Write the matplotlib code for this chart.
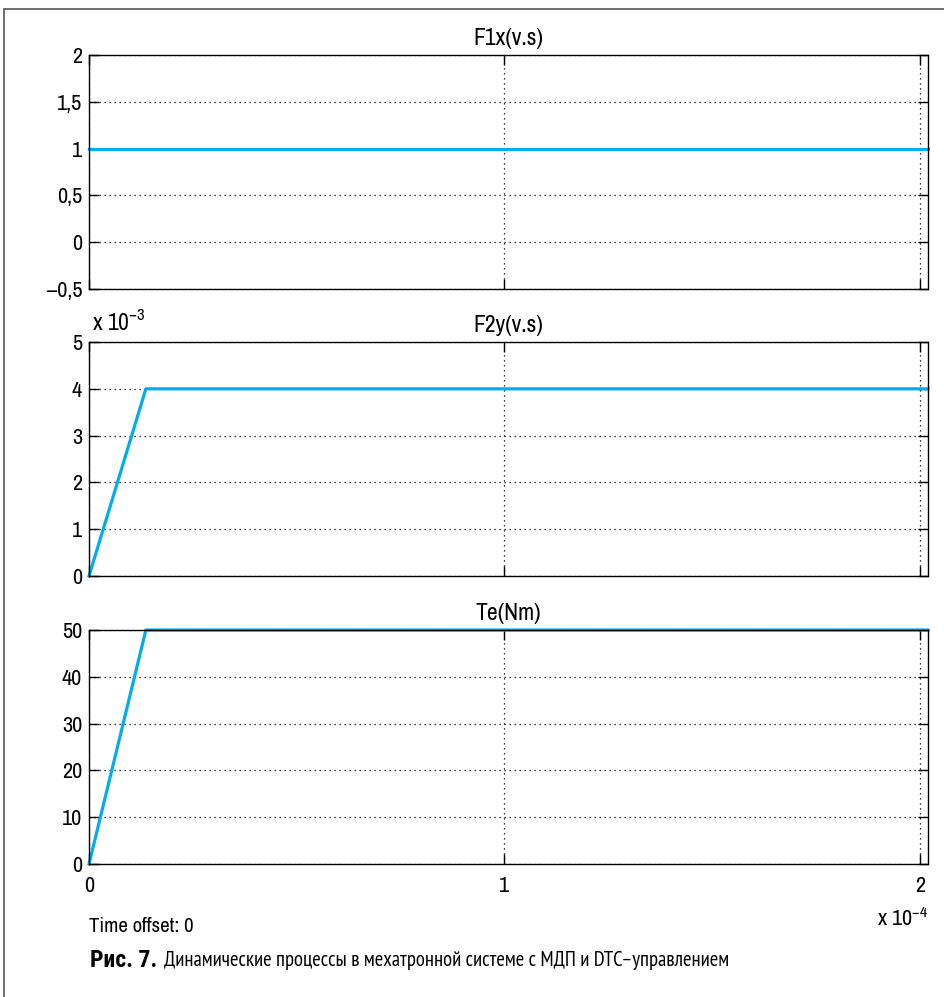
import matplotlib.pyplot as plt
from matplotlib.patches import Rectangle
from matplotlib.ticker import FuncFormatter

plt.rcParams['font.family'] = ['Archivo Narrow', 'PT Sans Narrow', 'DejaVu Sans']
plt.rcParams['mathtext.fontset'] = 'custom'
plt.rcParams['mathtext.rm'] = 'Archivo Narrow'

# time axis (seconds)
t = [0.0, 0.137e-4, 2.02e-4]

titles = ['F1x(v.s)', 'F2y(v.s)', 'Te(Nm)']
f1x = [1.0, 1.0, 1.0]
f2y = [0.0, 4e-3, 4e-3]
te = [0.0, 50.0, 50.0]
series = [f1x, f2y, te]

ylims = [(-0.5, 2.0), (0.0, 5e-3), (0.0, 50.0)]
yticks = [[-0.5, 0, 0.5, 1, 1.5, 2],
          [0, 1e-3, 2e-3, 3e-3, 4e-3, 5e-3],
          [0, 10, 20, 30, 40, 50]]
yscale = [1.0, 1e3, 1.0]
xticks = [0, 1e-4, 2e-4]

line_color = '#00AEEF'
cap_font = ['PT Sans Narrow', 'Roboto Condensed', 'DejaVu Sans']
bold_font = ['Roboto Condensed', 'DejaVu Sans']


def num_fmt(scale):
    def f(v, pos):
        s = ('%g' % (v * scale)).replace('.', ',')
        return s.replace('-', '\u2013')
    return f


fig = plt.figure(figsize=(9.44, 9.97), dpi=100)
W, H = 944, 997

# outer frame of the figure
fig.patches.append(Rectangle((4 / W, -0.1), 1.2, 1 - 9 / H + 0.1,
                             transform=fig.transFigure, fill=False,
                             edgecolor='#555555', linewidth=1.2))

left, right = 89 / W, 928 / W
tops = [55, 342, 630]
h_px = 234

for i in range(3):
    bottom = 1 - (tops[i] + h_px) / H
    ax = fig.add_axes([left, bottom, right - left, h_px / H])
    ax.plot(t, series[i], color=line_color, linewidth=2.3, clip_on=False)
    ax.set_xlim(0, 2.02e-4)
    ax.set_ylim(*ylims[i])
    ax.set_xticks(xticks)
    ax.set_yticks(yticks[i])
    ax.yaxis.set_major_formatter(FuncFormatter(num_fmt(yscale[i])))
    ax.xaxis.set_major_formatter(FuncFormatter(num_fmt(1e4)))
    if i < 2:
        ax.tick_params(axis='x', labelbottom=False)
    ax.tick_params(direction='in', length=7, width=1, top=True, right=True,
                   labelsize=16, pad=5)
    ax.tick_params(axis='x', pad=9)
    ax.grid(True, color='black', linestyle=(0, (1, 3)), linewidth=0.9)
    for sp in ax.spines.values():
        sp.set_linewidth(1.0)
    ax.set_title(titles[i], fontsize=17, pad=7)
    if i == 1:
        ax.text(0.003, 1.03, 'x 10$^{\u22123}$', transform=ax.transAxes,
                fontsize=17, ha='left', va='bottom')
    if i == 2:
        ax.text(1.0, -0.235, 'x 10$^{\u22124}$', transform=ax.transAxes,
                fontsize=16, ha='right', va='center')
        ax.text(0.0, -0.265, 'Time offset: 0', transform=ax.transAxes,
                fontsize=15, ha='left', va='center')

# caption: bold label, then the rest fitted to about 567 px width
cap_y = 1 - 960 / H
cap_text = 'Динамические процессы в мехатронной системе с МДП и DTC\u2013управлением'
bold = fig.text(90 / W, cap_y, 'Рис. 7.', fontsize=17, fontweight='bold',
                family=bold_font, ha='left', va='center')
rest = fig.text(188 / W, cap_y, cap_text, fontsize=18, family=cap_font,
                ha='left', va='center')
fig.canvas.draw()
rest.set_fontsize(18 * 567 / rest.get_window_extent().width)
rest.set_x((bold.get_window_extent().x1 + 7) / W)

fig.savefig('out.png', dpi=100)
